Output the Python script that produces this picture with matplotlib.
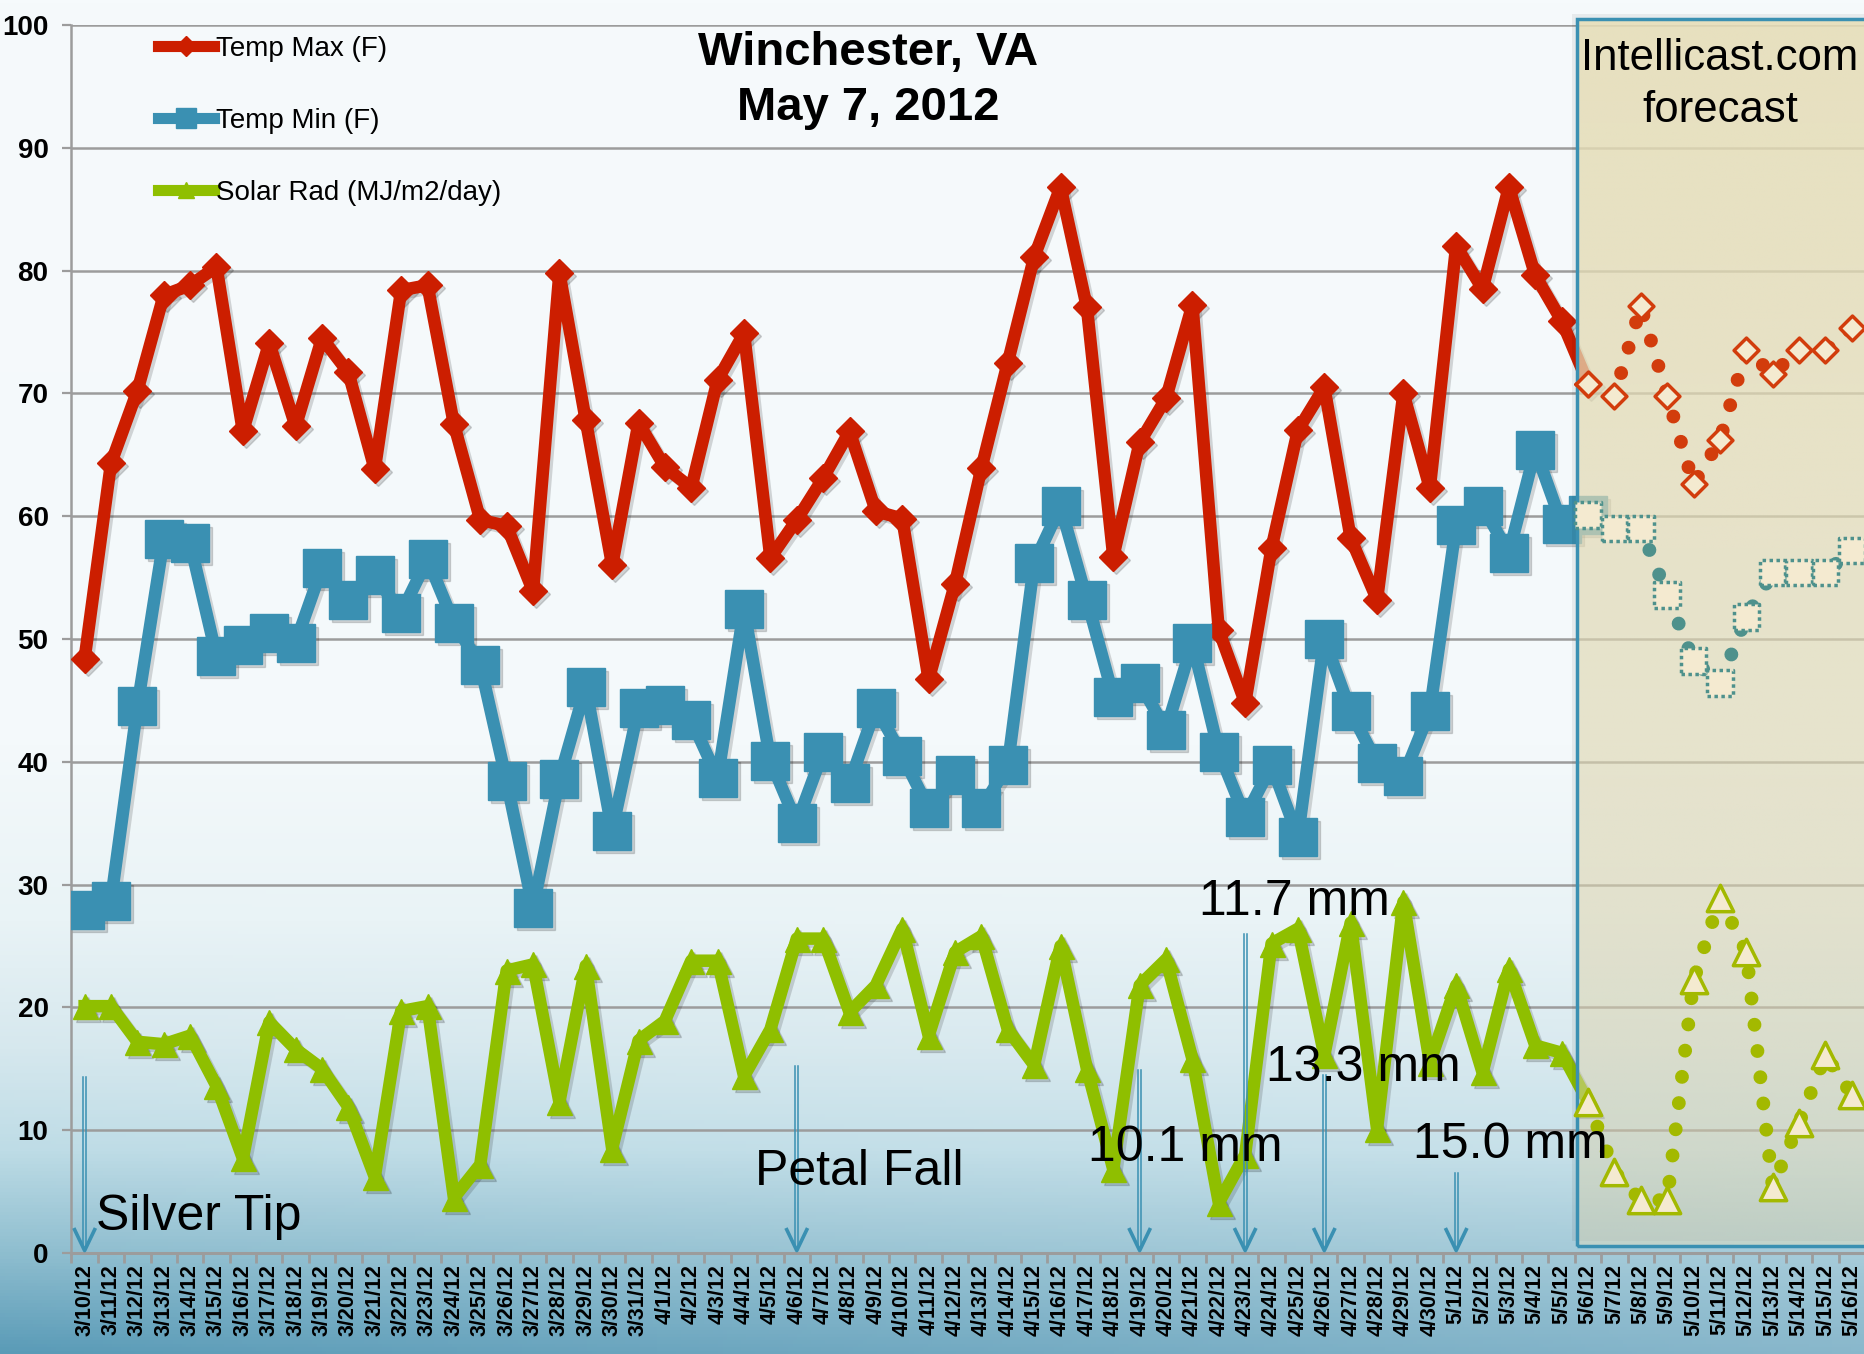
import matplotlib

matplotlib.use("Agg")
import matplotlib.pyplot as plt
import matplotlib.transforms as mtransforms
from matplotlib.lines import Line2D
from matplotlib.patches import Rectangle
import numpy as np
import pandas as pd

# --- data --------------------------------------------------------------------
dates = pd.date_range("2012-03-10", "2012-05-16")
date_labels = [f"{d.month}/{d.day}/12" for d in dates]

# observed, 3/10 .. 5/5
temp_max = [48.4, 64.3, 70.2, 78.0, 78.8, 80.3, 66.9, 74.1, 67.3, 74.5,
            71.7, 63.8, 78.4, 78.8, 67.5, 59.7, 59.2, 53.9, 79.8, 67.8,
            56.0, 67.6, 64.0, 62.3, 71.1, 74.9, 56.6, 59.7, 63.1, 66.9,
            60.4, 59.8, 46.7, 54.5, 63.9, 72.5, 81.1, 86.8, 77.0, 56.7,
            66.0, 69.6, 77.2, 50.7, 44.8, 57.4, 67.0, 70.5, 58.2, 53.2,
            70.0, 62.3, 82.0, 78.5, 86.8, 79.6, 75.9]
temp_min = [27.9, 28.7, 44.5, 58.1, 57.8, 48.6, 49.5, 50.5, 49.7, 55.8,
            53.2, 55.2, 52.1, 56.5, 51.3, 47.9, 38.4, 28.1, 38.6, 46.1,
            34.4, 44.4, 44.6, 43.4, 38.7, 52.4, 40.1, 35.0, 40.8, 38.3,
            44.4, 40.5, 36.2, 38.9, 36.2, 39.7, 56.2, 60.8, 53.2, 45.3,
            46.4, 42.6, 49.7, 40.8, 35.5, 39.7, 33.9, 50.0, 44.1, 39.9,
            38.8, 44.1, 59.3, 60.8, 57.0, 65.4, 59.4]
solar_rad = [20.1, 20.1, 17.2, 17.0, 17.7, 13.6, 7.7, 18.8, 16.6, 15.0,
             11.9, 6.2, 19.7, 20.1, 4.5, 7.2, 23.0, 23.5, 12.3, 23.4,
             8.5, 17.3, 18.9, 23.8, 23.8, 14.4, 18.2, 25.6, 25.6, 19.6,
             21.8, 26.4, 17.7, 24.5, 25.8, 18.2, 15.3, 25.0, 15.0, 6.8,
             21.8, 23.9, 15.8, 4.1, 8.0, 25.2, 26.4, 16.1, 26.9, 10.1,
             28.6, 15.5, 21.8, 14.7, 23.1, 16.9, 16.3]

# Intellicast forecast, 5/6 .. 5/16
max_fc = [70.8, 69.8, 77.1, 69.8, 62.6, 66.2, 73.5, 71.6, 73.5, 73.5, 75.3]
min_fc = [60.1, 59.0, 59.0, 53.6, 48.2, 46.4, 51.8, 55.4, 55.4, 55.4, 57.2]
solar_fc = [12.3, 6.6, 4.3, 4.3, 22.2, 28.9, 24.5, 5.4, 10.6, 16.1, 12.9]

# bloom / rain notes
event_idx = [0, 27, 40, 44, 47, 52]
event_text = ["Silver Tip", "Petal Fall", "10.1 mm", "11.7 mm", "13.3 mm", "15.0 mm"]
arrow_top = [14.3, 15.2, 14.9, 26.0, 14.5, 6.5]
text_x = [0.45, 25.4, 38.06, 42.25, 44.8, 50.36]
text_y = [1.9, 5.5, 7.45, 27.5, 14.0, 7.7]

RED = "#cc1e00"
TEAL = "#3a90b2"
GREEN = "#8fbf00"
CREAM = "#f4ead0"
FC_RED = "#d23c0c"
FC_TEAL = "#4e918c"
FC_GREEN = "#a3b900"
GRID = "#9c9c9c"
FONT = ["Liberation Sans", "DejaVu Sans"]

fig = plt.figure(figsize=(18.65, 13.54), dpi=100)

# slide-style background: white fading to teal-blue at the bottom
bg = fig.add_axes([0, 0, 1, 1], zorder=-10)
v = np.linspace(0, 1, 400)[:, None]
u = np.linspace(0, 1, 400)[None, :]
vk = [0, 0.55, 0.68, 0.775, 0.85, 0.93, 1.0]
ones = np.ones_like(u)
img = np.dstack([np.interp(v, vk, [246, 244, 233, 214, 190, 140, 90]) * ones,
                 np.interp(v, vk, [250, 249, 243, 232, 220, 188, 155]) * ones,
                 np.interp(v, vk, [252, 251, 246, 238, 230, 206, 183]) * ones]) / 255
lighten = 0.3 * u * np.clip((v - 0.6) / 0.4, 0, 1)
img = img + (np.array([246, 250, 252]) / 255 - img) * lighten[..., None]
bg.imshow(img, aspect="auto", extent=[0, 1, 0, 1])
bg.axis("off")

ax = fig.add_axes([0.0383, 0.0746, 0.9617, 0.907])
ax.set_facecolor("none")
x = np.arange(len(dates))
n_obs = len(temp_max)
xo = x[: n_obs + 1]
xf = x[n_obs:]
shadow = mtransforms.offset_copy(ax.transData, fig=fig, x=3, y=-3, units="dots")

series = [
    (temp_max, max_fc, RED, "D", 14.5, FC_RED, 160),
    (temp_min, min_fc, TEAL, "s", 27, FC_TEAL, 340),
    (solar_rad, solar_fc, GREEN, "^", 18, FC_GREEN, 360),
]
for obs, fc, col, mk, ms, fcol, _ in series:
    yo = list(obs) + [fc[0]]
    ax.plot(xo, yo, color="k", alpha=0.15, lw=9, marker=mk, ms=ms,
            transform=shadow, zorder=2, solid_joinstyle="round")
    ax.plot(xo, yo, color=col, lw=9, marker=mk, ms=ms, zorder=3,
            solid_joinstyle="round")

# forecast box: tan panel, more transparent toward the bottom
box_x0 = 56.58
ax.add_patch(Rectangle((box_x0, 0.6), 20, 99.9, facecolor=(0, 0, 0, 0.06),
                       edgecolor="none", clip_on=False, zorder=3.5,
                       transform=mtransforms.offset_copy(ax.transData, fig=fig, x=-5, y=5, units="dots")))
alpha_col = np.linspace(0.86, 0.42, 200)[:, None]
panel = np.ones((200, 2, 4))
panel[..., 0] = 232 / 255
panel[..., 1] = 223 / 255
panel[..., 2] = 184 / 255
panel[..., 3] = alpha_col
ax.imshow(panel, extent=[box_x0, box_x0 + 20, 0.6, 100.5], aspect="auto",
          clip_on=False, zorder=4, interpolation="bilinear")
ax.add_patch(Rectangle((box_x0, 0.6), 20, 99.9, facecolor="none",
                       edgecolor=TEAL, lw=2.5, clip_on=False, zorder=4.2))

for obs, fc, col, mk, ms, fcol, s in series:
    ax.plot(xf, fc, color=fcol, lw=10, linestyle=(0, (0.001, 1.9)),
            dash_capstyle="round", zorder=5)
    ls = (0, (1, 1)) if mk == "s" else "solid"
    ax.scatter(xf, fc, s=s, marker=mk, facecolor=CREAM, edgecolor=fcol,
               linewidths=2.5, linestyle=ls, zorder=6)

# event arrows and notes
for i, txt, top, tx, ty in zip(event_idx, event_text, arrow_top, text_x, text_y):
    for dx in (-0.055, 0.055):
        ax.plot([i + dx, i + dx], [top, 0.4], color=TEAL, lw=1.1, zorder=7)
    ax.plot([i - 0.38, i, i + 0.38], [1.9, 0.2, 1.9], color=TEAL, lw=2.6, zorder=7)
    ax.text(tx, ty, txt, fontsize=36, family=FONT, color="black", zorder=8)

ax.set_xlim(-0.45, 67.49)
ax.set_ylim(0, 100)
ax.set_yticks(range(0, 101, 10))
ax.set_yticklabels([str(t) for t in range(0, 101, 10)], fontsize=20,
                   fontweight="bold", family=FONT)
ax.set_xticks(x)
ax.set_xticklabels(date_labels, rotation=90, fontsize=15.5, fontweight="bold", family=FONT)
ax.set_xticks(np.arange(-0.5, 68, 1), minor=True)
ax.tick_params(axis="x", which="major", length=0, pad=8)
ax.tick_params(axis="x", which="minor", length=7, width=2, color=GRID)
ax.tick_params(axis="y", length=6.5, width=1.6, color=GRID, pad=10)
ax.grid(axis="y", color=GRID, lw=1.8)
ax.set_axisbelow(True)
for side in ("top", "right"):
    ax.spines[side].set_visible(False)
ax.spines["left"].set_color(GRID)
ax.spines["left"].set_linewidth(1.8)
ax.spines["bottom"].set_color(GRID)
ax.spines["bottom"].set_linewidth(2.2)

handles = [Line2D([], [], color=RED, lw=8, marker="D", ms=10),
           Line2D([], [], color=TEAL, lw=8, marker="s", ms=14),
           Line2D([], [], color=GREEN, lw=8, marker="^", ms=11)]
labels = ["Temp Max (F)", "Temp Min (F)", "Solar Rad (MJ/m2/day)"]
fig.legend(handles, labels, loc="upper left", bbox_to_anchor=(158 / 1865, 1 - 36 / 1354),
           frameon=False, prop={"family": FONT, "size": 20}, handlelength=2.0,
           handletextpad=0.08, labelspacing=1.65, borderpad=0, borderaxespad=0)

fig.text(868 / 1865, 1 - 31 / 1354, "Winchester, VA\nMay 7, 2012", ha="center", va="top",
         fontsize=34, fontweight="bold", family=FONT, linespacing=1.32)
fig.text(1720 / 1865, 1 - 38 / 1354, "Intellicast.com\nforecast", ha="center", va="top",
         fontsize=31.5, family=FONT, linespacing=1.35)

fig.savefig("out.png", dpi=100)
